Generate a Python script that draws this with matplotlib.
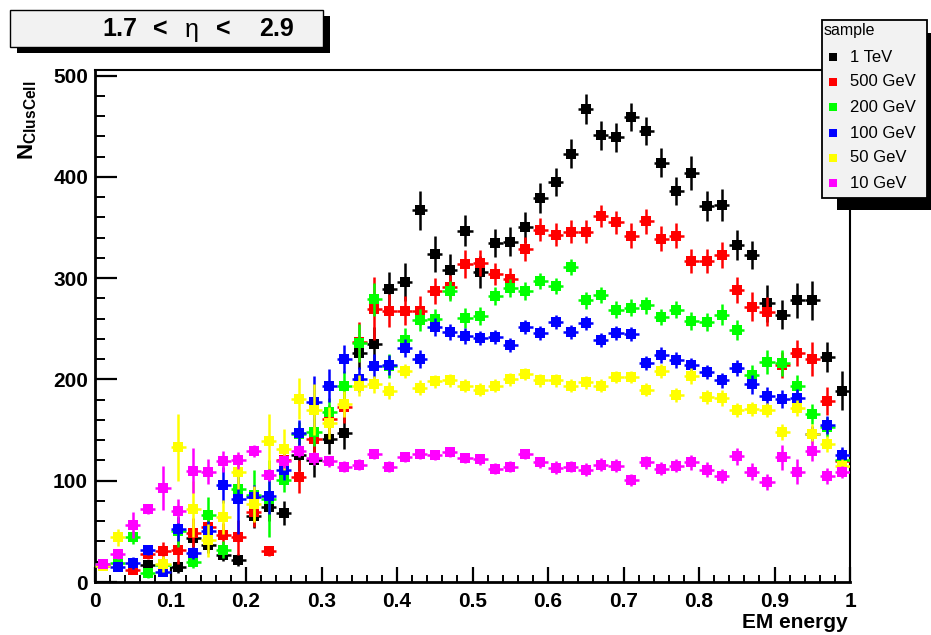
"""N_ClusCell vs EM energy for several beam energies, 1.7 < eta < 2.9"""
import numpy as np
import matplotlib
matplotlib.use('Agg')
import matplotlib.pyplot as plt
from matplotlib.patches import Rectangle
from matplotlib.ticker import MultipleLocator

nan = np.nan

# bin centres (50 bins of width 0.02)
em_energy = [0.01, 0.03, 0.05, 0.07, 0.09, 0.11, 0.13, 0.15, 0.17, 0.19,
             0.21, 0.23, 0.25, 0.27, 0.29, 0.31, 0.33, 0.35, 0.37, 0.39,
             0.41, 0.43, 0.45, 0.47, 0.49, 0.51, 0.53, 0.55, 0.57, 0.59,
             0.61, 0.63, 0.65, 0.67, 0.69, 0.71, 0.73, 0.75, 0.77, 0.79,
             0.81, 0.83, 0.85, 0.87, 0.89, 0.91, 0.93, 0.95, 0.97, 0.99]
bin_half = 0.01

samples = ['1 TeV', '500 GeV', '200 GeV', '100 GeV', '50 GeV', '10 GeV']
colors = ['#000000', '#ff0000', '#00ff00', '#0000ff', '#ffff00', '#ff00ff']

n_1tev = [nan, nan, nan, 17, nan, 15, 43, 37, 27, 22,
          65, 74, 68, 125, 120, 141, 147, 226, 235, 289,
          296, 367, 324, 308, 347, 306, 335, 336, 350, 379,
          395, 423, 467, 441, 439, 459, 445, 414, 386, 404,
          371, 372, 333, 323, 275, 264, 278, 278, 222, 189]
e_1tev = [0, 0, 0, 5, 0, 6, 8, 8, 6, 6,
          12, 14, 12, 15, 16, 15, 16, 16, 17, 17,
          19, 19, 18, 16, 15, 16, 14, 14, 15, 15,
          14, 14, 15, 14, 14, 14, 14, 14, 14, 17,
          15, 16, 15, 14, 18, 14, 17, 19, 15, 19]

n_500 = [nan, nan, 12, 28, 31, 32, 48, 54, 46, 44,
         69, 31, 120, 104, 141, 161, 173, 237, 270, 268,
         268, 268, 287, 291, 314, 315, 304, 299, 329, 348,
         343, 346, 346, 361, 355, 342, 356, 339, 342, 317,
         317, 323, 288, 272, 267, 214, 226, 220, 179, 119]
e_500 = [0, 0, 4, 5, 8, 14, 15, 10, 12, 17,
         15, 5, 10, 16, 14, 14, 16, 20, 31, 16,
         14, 14, 13, 12, 14, 13, 11, 11, 12, 11,
         11, 11, 11, 11, 11, 12, 12, 12, 12, 12,
         12, 13, 13, 14, 14, 13, 13, 17, 14, 12]

n_200 = [18, 19, 44, 9, 17, 50, 20, 66, 32, 92,
         86, 82, 101, 146, 148, 168, 194, 236, 279, 213,
         239, 259, 260, 287, 261, 263, 282, 290, 287, 297,
         292, 311, 278, 283, 269, 271, 273, 262, 269, 258,
         257, 264, 249, 204, 217, 216, 194, 166, 153, 120]
e_200 = [4, 4, 6, 5, 6, 15, 6, 18, 8, 12,
         25, 38, 12, 12, 14, 14, 14, 19, 16, 12,
         12, 11, 10, 10, 10, 9, 9, 9, 9, 8,
         8, 8, 8, 8, 8, 8, 8, 8, 8, 9,
         9, 10, 10, 10, 12, 13, 10, 10, 10, 8]

n_100 = [16, 15, 19, 32, 10, 52, 29, 50, 96, 82,
         84, 85, 111, 147, 178, 194, 220, 200, 213, 214,
         231, 220, 252, 247, 243, 241, 242, 234, 252, 246,
         257, 247, 256, 239, 246, 245, 216, 224, 219, 214,
         207, 199, 211, 195, 184, 181, 182, 146, 155, 125]
e_100 = [4, 4, 6, 5, 4, 12, 6, 10, 18, 35,
         12, 18, 10, 13, 25, 16, 14, 12, 12, 10,
         9, 9, 9, 8, 8, 7, 7, 7, 7, 7,
         7, 7, 7, 7, 7, 7, 7, 8, 8, 7,
         7, 7, 8, 9, 9, 9, 9, 8, 9, 8]

n_50 = [16, 44, nan, nan, 18, 133, 72, 41, 64, 109,
        77, 139, 131, 181, 170, 157, 176, 194, 195, 189,
        208, 192, 198, 199, 194, 190, 194, 200, 205, 199,
        199, 194, 197, 194, 202, 202, 190, 208, 185, 203,
        183, 182, 170, 171, 170, 148, 172, 146, 136, 115]
e_50 = [4, 8, 0, 0, 8, 33, 28, 16, 17, 17,
        18, 27, 20, 20, 25, 16, 13, 10, 8, 8,
        7, 7, 6, 6, 6, 6, 6, 6, 6, 6,
        6, 6, 6, 6, 6, 6, 6, 7, 7, 8,
        7, 8, 7, 7, 7, 8, 8, 10, 8, 6]

n_10 = [18, 28, 56, 72, 93, 70, 110, 109, 119, 120,
        129, 106, 119, 129, 122, 119, 114, 116, 126, 114,
        123, 126, 125, 128, 122, 121, 112, 114, 126, 118,
        113, 114, 111, 116, 115, 101, 118, 112, 115, 118,
        111, 105, 124, 109, 99, 123, 109, 129, 105, 109]
e_10 = [4, 5, 13, 5, 22, 12, 22, 12, 10, 8,
        6, 6, 6, 6, 6, 5, 5, 5, 5, 5,
        5, 5, 5, 5, 5, 5, 5, 5, 5, 5,
        6, 5, 6, 6, 6, 6, 6, 6, 6, 7,
        7, 7, 8, 8, 8, 12, 12, 10, 8, 6]

values = [n_1tev, n_500, n_200, n_100, n_50, n_10]
errors = [e_1tev, e_500, e_200, e_100, e_50, e_10]

W, H = 931, 635
BOLD = dict(family='Liberation Sans', weight='bold')

fig = plt.figure(figsize=(W / 100, H / 100), dpi=100, facecolor='white')

# main frame (pixel box 95..850 x 70..582)
ax = fig.add_axes([95 / W, (H - 582) / H, (850 - 95) / W, (582 - 70) / H])
for k in range(len(samples)):
    ax.errorbar(em_energy, values[k], yerr=errors[k], xerr=bin_half,
                fmt='s', color=colors[k], ms=6.5, mew=0, elinewidth=1.8,
                capsize=0, zorder=3 + k)

ax.set_xlim(0, 1)
ax.set_ylim(0, 505.5)
ax.xaxis.set_major_locator(MultipleLocator(0.1))
ax.xaxis.set_minor_locator(MultipleLocator(0.02))
ax.yaxis.set_major_locator(MultipleLocator(100))
ax.yaxis.set_minor_locator(MultipleLocator(20))
ax.xaxis.set_major_formatter(plt.FuncFormatter(lambda v, p: '%g' % round(v, 1)))
ax.tick_params(axis='x', which='major', direction='in', length=10.5, width=1.6, pad=7)
ax.tick_params(axis='x', which='minor', direction='in', length=5, width=1.4)
ax.tick_params(axis='y', which='major', direction='in', length=15.5, width=1.6, pad=5)
ax.tick_params(axis='y', which='minor', direction='in', length=7.5, width=1.4)
for lab in ax.get_xticklabels() + ax.get_yticklabels():
    lab.set_fontsize(15)
    lab.set_fontfamily('Liberation Sans')
    lab.set_fontweight('bold')
for side in ['left', 'bottom']:
    ax.spines[side].set_linewidth(2.0)
for side in ['top', 'right']:
    ax.spines[side].set_linewidth(1.5)

# overlay in pixel coordinates for title box, legend and axis titles
ov = fig.add_axes([0, 0, 1, 1], zorder=10)
ov.set_xlim(0, W)
ov.set_ylim(H, 0)
ov.axis('off')
ov.patch.set_alpha(0)

# title box with shadow
ov.add_patch(Rectangle((17, 16), 313, 37, facecolor='black', edgecolor='none'))
ov.add_patch(Rectangle((10, 10), 313, 37, facecolor='#f2f2f2', edgecolor='black', lw=1.0))
ov.text(120, 36.5, '1.7', ha='center', va='baseline', fontsize=18, **BOLD)
ov.text(160, 36.5, '<', ha='center', va='baseline', fontsize=18, **BOLD)
ov.text(192, 36.5, 'η', ha='center', va='baseline', fontsize=18,
        family='Liberation Sans')
ov.text(223.5, 36.5, '<', ha='center', va='baseline', fontsize=18, **BOLD)
ov.text(276, 36.5, '2.9', ha='center', va='baseline', fontsize=18, **BOLD)

# legend box with shadow
ov.add_patch(Rectangle((837, 33), 110, 177, facecolor='black', edgecolor='none'))
ov.add_patch(Rectangle((822, 20), 105, 178, facecolor='#f2f2f2', edgecolor='black', lw=1.3))
ov.text(824, 31, 'sample', ha='left', va='center', fontsize=11.5,
        family='Liberation Sans')
leg_y = [57, 82, 107, 133, 158, 183]
for k in range(len(samples)):
    ov.plot([833], [leg_y[k]], 's', color=colors[k], ms=5.2, mew=0)
    ov.text(850, leg_y[k], samples[k], ha='left', va='center', fontsize=12,
            family='Liberation Sans')

# axis titles
plt.rcParams['mathtext.fontset'] = 'custom'
plt.rcParams['mathtext.bf'] = 'Liberation Sans:bold'
plt.rcParams['mathtext.rm'] = 'Liberation Sans:bold'
ov.text(28, 80, r'$\mathbf{N}_{\mathbf{ClusCell}}$', rotation=90, ha='center',
        va='top', fontsize=16)
ov.text(848, 622, 'EM energy', ha='right', va='center', fontsize=15, **BOLD)

fig.savefig('out.png', dpi=100)
